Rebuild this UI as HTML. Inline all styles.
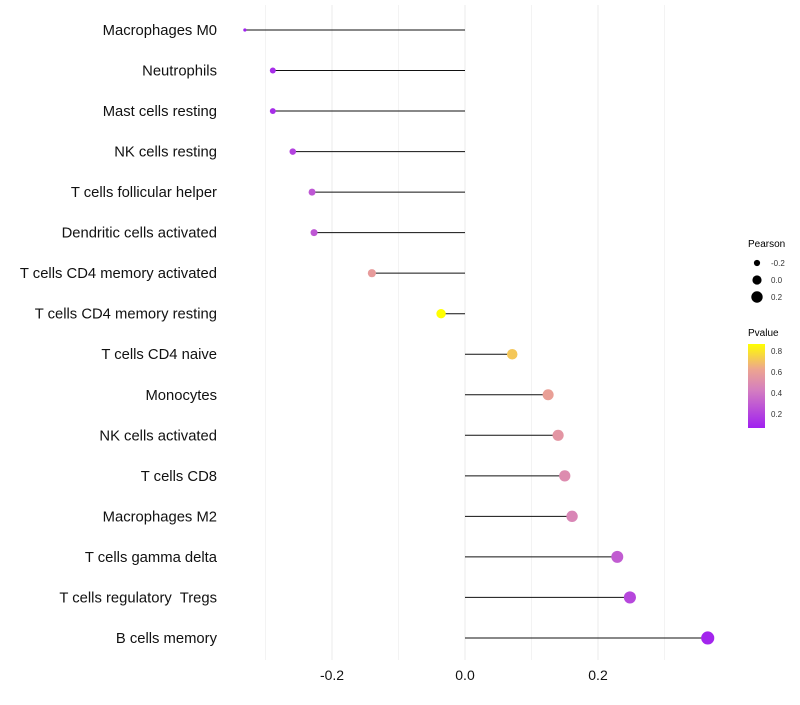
<!DOCTYPE html>
<html><head><meta charset="utf-8"><style>
body{margin:0;background:#fff;font-family:"Liberation Sans",sans-serif}
text{white-space:pre}
</style></head><body>
<svg id="chart" width="800" height="700" xmlns="http://www.w3.org/2000/svg">
<g id="grid"></g>
<g id="marks"></g>
<g id="labels"></g>
<g id="xticks"></g>
<g>
<text x="748" y="247" font-size="10" fill="#000">Pearson</text>
<circle cx="757" cy="263" r="3.1" fill="#000"/>
<text x="771" y="266" font-size="8" fill="#333">-0.2</text>
<circle cx="757" cy="280" r="4.6" fill="#000"/>
<text x="771" y="283" font-size="8" fill="#333">0.0</text>
<circle cx="757" cy="297" r="5.7" fill="#000"/>
<text x="771" y="300" font-size="8" fill="#333">0.2</text>
</g>
<g>
<defs><linearGradient id="pg" x1="0" y1="1" x2="0" y2="0">
<stop offset="0" stop-color="#a020f0"/><stop offset="0.45" stop-color="#d47ec0"/><stop offset="0.7" stop-color="#eda58f"/><stop offset="1" stop-color="#ffff00"/>
</linearGradient></defs>
<text x="748" y="336" font-size="10" fill="#000">Pvalue</text>
<rect x="748" y="344" width="17" height="84" fill="url(#pg)"/>
<text x="771" y="354" font-size="8" fill="#333">0.8</text>
<text x="771" y="375" font-size="8" fill="#333">0.6</text>
<text x="771" y="396" font-size="8" fill="#333">0.4</text>
<text x="771" y="417" font-size="8" fill="#333">0.2</text>
</g>
</svg>
<script>
const cells=["Macrophages M0","Neutrophils","Mast cells resting","NK cells resting","T cells follicular helper","Dendritic cells activated","T cells CD4 memory activated","T cells CD4 memory resting","T cells CD4 naive","Monocytes","NK cells activated","T cells CD8","Macrophages M2","T cells gamma delta","T cells regulatory  Tregs","B cells memory"];
const pearson=[-0.331,-0.289,-0.289,-0.259,-0.230,-0.227,-0.140,-0.036,0.071,0.125,0.140,0.150,0.161,0.229,0.248,0.365];
const pvalue=[0.07,0.12,0.12,0.2,0.28,0.28,0.58,0.87,0.72,0.6,0.55,0.5,0.47,0.3,0.22,0.09];
const xTicks=[-0.2,0.0,0.2];
const xMinor=[-0.3,-0.1,0.1,0.3];
const NS="http://www.w3.org/2000/svg";
const xs=v=>465+v*665;
const ys=i=>30+i*40.53;
const rs=v=>v<-0.32?1.6:Math.sqrt(Math.max(1,24+52*v));
function lerp(a,b,t){return a.map((x,k)=>Math.round(x+(b[k]-x)*t));}
const stops=[[0.07,[160,32,240]],[0.43,[212,126,192]],[0.63,[237,165,143]],[0.87,[255,255,0]]];
function col(p){p=Math.min(0.87,Math.max(0.07,p));for(let k=0;k<stops.length-1;k++){const[a,ca]=stops[k],[b,cb]=stops[k+1];if(p<=b){const c=lerp(ca,cb,(p-a)/(b-a));return`rgb(${c})`;}}return"rgb(255,255,0)";}
function mk(tag,attrs,parent){const e=document.createElementNS(NS,tag);for(const k in attrs)e.setAttribute(k,attrs[k]);parent.appendChild(e);return e;}
const grid=document.getElementById('grid'),marks=document.getElementById('marks'),labels=document.getElementById('labels'),xt=document.getElementById('xticks');
xMinor.forEach(v=>{const l=mk('line',{x1:xs(v),x2:xs(v),y1:5,y2:660,stroke:'#f3f3f3','stroke-width':1},grid);

});
xTicks.forEach(v=>{const l=mk('line',{x1:xs(v),x2:xs(v),y1:5,y2:660,stroke:'#ebebeb','stroke-width':1},grid);


const t=mk('text',{x:xs(v),y:680,'font-size':14,'text-anchor':'middle',fill:'#111'},xt);t.textContent=v.toFixed(1);

});
cells.forEach((c,i)=>{const y=ys(i);
const t=mk('text',{x:217,y:y+5,'font-size':14.8,'text-anchor':'end',fill:'#111'},labels);t.textContent=c;


const l=mk('line',{x1:xs(0),x2:xs(pearson[i]),y1:y,y2:y,stroke:'#111','stroke-width':1},marks);


const d=mk('circle',{cx:xs(pearson[i]),cy:y,r:rs(pearson[i]),fill:col(pvalue[i])},marks);


});
</script>
</body></html>
